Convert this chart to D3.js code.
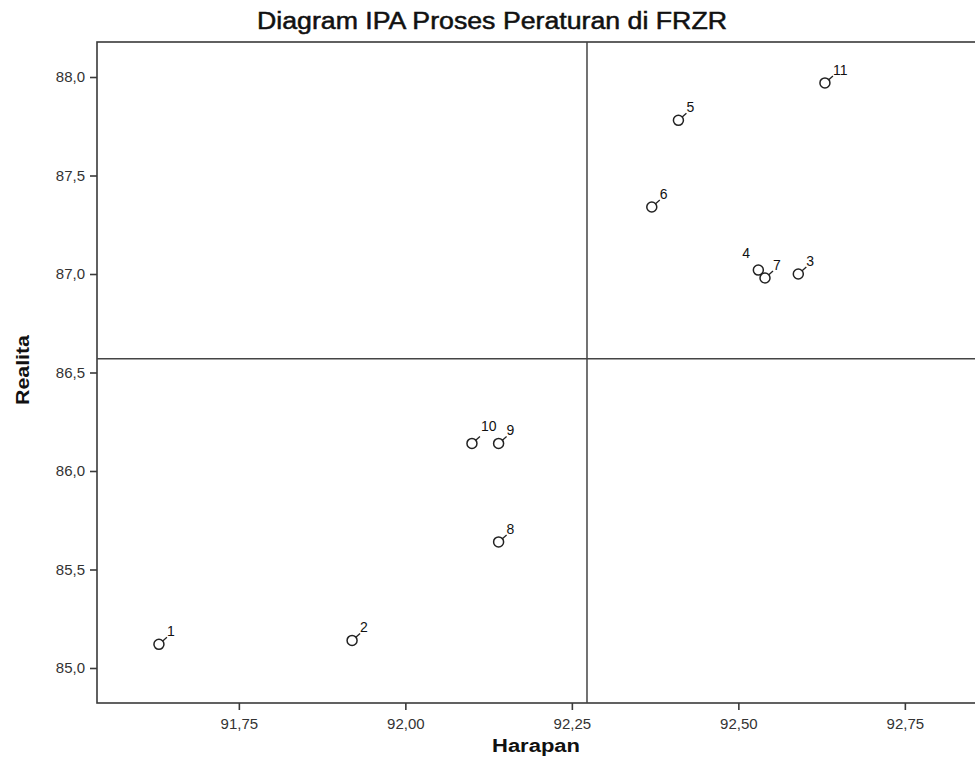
<!DOCTYPE html>
<html>
<head>
<meta charset="utf-8">
<script src="https://cdn.jsdelivr.net/npm/d3@7"></script>
<style>
  html, body { margin: 0; padding: 0; background: #fff; }
  svg { display: block; font-family: "Liberation Sans", Arial, sans-serif; }
</style>
</head>
<body>
<svg id="chart" width="975" height="774"></svg>
<script>
// ---- data ----
const ids      = ["1","2","3","4","5","6","7","8","9","10","11"];
const harapan  = [91.63, 91.92, 92.59, 92.53, 92.41, 92.37, 92.54, 92.14, 92.14, 92.10, 92.63];
const realita  = [85.12, 85.14, 87.00, 87.02, 87.78, 87.34, 86.98, 85.64, 86.14, 86.14, 87.97];
const xTicks   = [91.75, 92.00, 92.25, 92.50, 92.75];
const yTicks   = [85.0, 85.5, 86.0, 86.5, 87.0, 87.5, 88.0];
const refX = d3.mean(harapan);   // quadrant divider (mean Harapan)
const refY = d3.mean(realita);   // quadrant divider (mean Realita)
const title = "Diagram IPA Proses Peraturan di FRZR";
const xTitle = "Harapan";
const yTitle = "Realita";

// label placement (layout only): default upper-right, some exceptions
const labelPlace = { "4": "left", "10": "up" };

// ---- layout ----
const svg = d3.select("#chart");
const mLeft = 97, mTop = 42, mBottom = 703, mRight = 990;

const x = d3.scaleLinear().domain([91.537, 91.537 + (mRight - mLeft) / 666]).range([mLeft, mRight]);
const y = d3.scaleLinear().domain([84.8223, 88.1777]).range([mBottom, mTop]);

const loc = d3.formatLocale({decimal: ",", thousands: ".", grouping: [3], currency: ["", ""]});
const fx = loc.format(".2f"), fy = loc.format(".1f");

const axisColor = "#3a3a3a";

// frame (left axis, top border, right border off-canvas)
svg.append("rect")
  .attr("x", mLeft).attr("y", mTop)
  .attr("width", mRight - mLeft).attr("height", mBottom - mTop)
  .attr("fill", "none").attr("stroke", axisColor).attr("stroke-width", 1.6);

// reference lines
svg.append("line")
  .attr("x1", x(refX)).attr("x2", x(refX))
  .attr("y1", mTop).attr("y2", mBottom)
  .attr("stroke", "#444").attr("stroke-width", 1.5);
svg.append("line")
  .attr("x1", mLeft).attr("x2", mRight)
  .attr("y1", y(refY)).attr("y2", y(refY))
  .attr("stroke", "#444").attr("stroke-width", 1.5);

// axes
const xAxis = d3.axisBottom(x).tickValues(xTicks).tickFormat(fx).tickSize(7).tickPadding(8);
const gx = svg.append("g").attr("transform", `translate(0,${mBottom})`).call(xAxis);
const yAxis = d3.axisLeft(y).tickValues(yTicks).tickFormat(fy).tickSize(7).tickPadding(5);
const gy = svg.append("g").attr("transform", `translate(${mLeft},0)`).call(yAxis);
[gx, gy].forEach(g => {
  g.select(".domain").remove();
  g.selectAll(".tick line").attr("stroke", axisColor).attr("stroke-width", 1.6);
  g.selectAll(".tick text").attr("fill", "#333").style("font-size", "15px")
    .style("font-family", "'Liberation Sans', Arial, sans-serif");
});

// title & axis titles
svg.append("text").attr("x", 492).attr("y", 29).attr("text-anchor", "middle")
  .attr("textLength", 470).attr("lengthAdjust", "spacingAndGlyphs")
  .attr("stroke", "#111").attr("stroke-width", 0.5)
  .style("font-size", "23px").attr("fill", "#111").text(title);
svg.append("text").attr("x", 536).attr("y", 752).attr("text-anchor", "middle")
  .attr("textLength", 88).attr("lengthAdjust", "spacingAndGlyphs")
  .style("font-size", "18px").style("font-weight", "bold").attr("fill", "#111").text(xTitle);
svg.append("text").attr("transform", `translate(29,370) rotate(-90)`)
  .attr("text-anchor", "middle")
  .attr("textLength", 70).attr("lengthAdjust", "spacingAndGlyphs")
  .style("font-size", "18px").style("font-weight", "bold").attr("fill", "#111").text(yTitle);

// points
const pts = ids.map((id, i) => ({id, hx: harapan[i], ry: realita[i]}));
const gp = svg.append("g");
const node = gp.selectAll("g.pt").data(pts).join("g")
  .attr("class", "pt")
  .attr("transform", d => `translate(${x(d.hx)},${y(d.ry)})`);

node.filter(d => labelPlace[d.id] !== "left").append("line")
  .attr("x1", 3.5).attr("y1", -3).attr("x2", 8).attr("y2", -7)
  .attr("stroke", "#222").attr("stroke-width", 1.3);
node.append("circle").attr("r", 5)
  .attr("fill", "#fff").attr("stroke", "#222").attr("stroke-width", 1.5);
node.append("text")
  .attr("x", d => labelPlace[d.id] === "left" ? -16 : (labelPlace[d.id] === "up" ? 9 : 8))
  .attr("y", d => labelPlace[d.id] === "left" ? -12 : (labelPlace[d.id] === "up" ? -12 : -8))
  .style("font-size", "14px").attr("fill", "#111")
  .text(d => d.id);
</script>
</body>
</html>
